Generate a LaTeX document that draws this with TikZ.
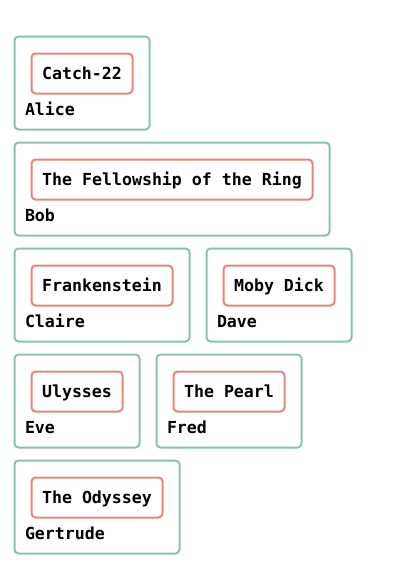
\documentclass[tikz,border=0pt]{standalone}
\usepackage{fontspec}
\newfontfamily\cardmono{DejaVu Sans Mono}
\definecolor{cardgreen}{HTML}{8CC2A8}
\definecolor{cardred}{HTML}{E8847A}
\tikzset{
  outerbox/.style={draw=cardgreen, line width=2pt, rounded corners=4pt, anchor=north west, inner sep=0pt, outer sep=0pt, minimum height=93pt},
  innerbox/.style={draw=cardred, line width=2pt, rounded corners=4pt, anchor=north west, inner sep=0pt, outer sep=0pt, minimum height=40pt, text height=13pt, text depth=2pt, align=center},
  cardtext/.style={font=\cardmono\bfseries\fontsize{16.6}{20}\selectfont, text=black},
  persontext/.style={anchor=base west, inner sep=0pt, outer sep=0pt}
}
\newcommand\bookcard[7]{%
  \node[outerbox, minimum width=#4pt] (#1o) at (#2,#3) {};
  \node[innerbox, cardtext, minimum width=#5pt] (#1i) at (#2+17,#3+17) {#6};
  \node[persontext, cardtext] (#1p) at (#2+10.5,#3+78.5) {#7};
}
\begin{document}
\begin{tikzpicture}[x=1pt,y=-1pt]
\useasboundingbox (0,0) rectangle (400,568);
\bookcard{alice}{14.5}{36.5}{135}{101}{Catch-22}{Alice}
\bookcard{bob}{14.5}{142.5}{315}{281}{The Fellowship of the Ring}{Bob}
\bookcard{claire}{14.5}{248.5}{175}{141}{Frankenstein}{Claire}
\bookcard{dave}{206.5}{248.5}{145}{111}{Moby Dick}{Dave}
\bookcard{eve}{14.5}{354.5}{125}{91}{Ulysses}{Eve}
\bookcard{fred}{156.5}{354.5}{145}{111}{The Pearl}{Fred}
\bookcard{gertrude}{14.5}{460.5}{165}{131}{The Odyssey}{Gertrude}
\end{tikzpicture}
\end{document}
